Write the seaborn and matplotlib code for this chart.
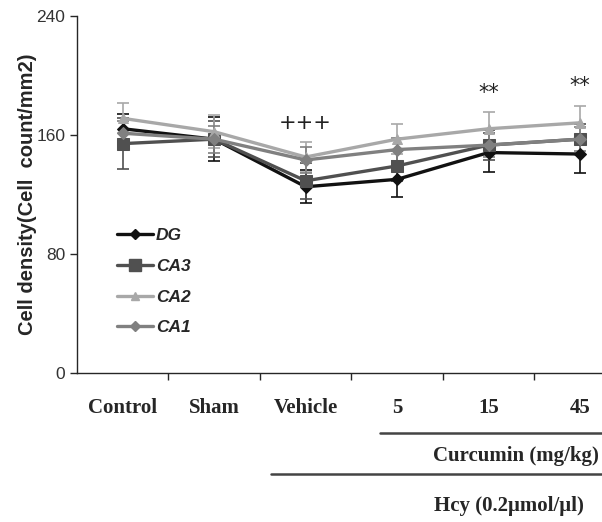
import pandas as pd
import numpy as np
import matplotlib.pyplot as plt
import seaborn as sns

# data
groups = ["Control", "Sham", "Vehicle", "5", "15", "45"]
dg = [164, 157, 125, 130, 148, 147]
ca3 = [154, 157, 129, 139, 153, 157]
ca2 = [171, 162, 145, 157, 164, 168]
ca1 = [161, 157, 143, 150, 153, 157]
dg_err = [10, 15, 11, 12, 13, 13]
ca3_err = [17, 12, 12, 10, 10, 10]
ca2_err = [10, 11, 10, 10, 11, 11]
ca1_err = [8, 9, 9, 8, 8, 8]
marks = ["", "", "+++", "", "**", "**"]
mark_y = [0, 0, 168, 0, 188, 193]

series = ["DG", "CA3", "CA2", "CA1"]
values = {"DG": dg, "CA3": ca3, "CA2": ca2, "CA1": ca1}
errors = {"DG": dg_err, "CA3": ca3_err, "CA2": ca2_err, "CA1": ca1_err}
colours = {"DG": "#111111", "CA3": "#505050", "CA2": "#a8a8a8", "CA1": "#808080"}
markers = {"DG": "D", "CA3": "s", "CA2": "^", "CA1": "D"}
msizes = {"DG": 6, "CA3": 9, "CA2": 7, "CA1": 6}

rows = []
for s in series:
    for i, g in enumerate(groups):
        rows.append({"x": i, "group": g, "series": s, "value": values[s][i]})
df = pd.DataFrame(rows)

sns.set_style("ticks")
plt.rcParams["font.family"] = ["Liberation Sans", "DejaVu Sans"]

W, H = 602, 522
fig = plt.figure(figsize=(W / 100, H / 100), dpi=100)
ax = fig.add_axes([77 / W, 1 - 372.7 / H, (W - 77) / W, 357 / H])

for s in series:
    sub = df[df["series"] == s]
    ax.errorbar(sub["x"], sub["value"], yerr=errors[s], fmt="none",
                ecolor=colours[s], elinewidth=1.2, capsize=4, capthick=1.2, zorder=1)

sns.lineplot(data=df, x="x", y="value", hue="series", style="series",
             palette=colours, markers=markers, dashes=False, ax=ax,
             linewidth=2.4, legend=False, zorder=3)
for line, s in zip(ax.lines[-len(series):], series):
    line.set_markersize(msizes[s])
    line.set_markeredgecolor(colours[s])

# legend built by hand to match the style
handles = [plt.Line2D([], [], color=colours[s], marker=markers[s], lw=2.4,
                      markersize=msizes[s] - 1) for s in series]
leg = ax.legend(handles, series, loc="upper left",
                bbox_to_anchor=(117 / W, 1 - 228 / H), bbox_transform=fig.transFigure,
                frameon=False, handlelength=2.1, handletextpad=0.15,
                labelspacing=0.9, borderpad=0, borderaxespad=0,
                prop={"weight": "bold", "style": "italic", "size": 12.5})

for i, t in enumerate(marks):
    if t:
        ax.text(i, mark_y[i], t, ha="center", va="center", fontsize=15,
                family="DejaVu Sans", color="#222222")

ax.set_xlim(-0.5, 5.24)
ax.set_ylim(0, 240)
ax.set_yticks([0, 80, 160, 240])
ax.set_xticks([0.5, 1.5, 2.5, 3.5, 4.5])
ax.set_xticklabels([])
ax.tick_params(axis="both", direction="out", length=5, width=1, labelsize=12.5,
               labelcolor="#333333")
ax.set_xlabel("")
ax.set_ylabel("Cell density(Cell  count/mm2)", fontweight="bold", fontsize=14.5)
ax.yaxis.set_label_coords((37 - 77) / (W - 77), 0.5)
for sp in ["top", "right"]:
    ax.spines[sp].set_visible(False)
for sp in ["left", "bottom"]:
    ax.spines[sp].set_linewidth(1)
ax.grid(False)

# group labels below the axis (y from pixel rows)
serif = ["Liberation Serif", "DejaVu Serif"]
label_y = (372.7 - 408) / 357
for i, g in enumerate(groups):
    ax.text(i, label_y, g, transform=ax.get_xaxis_transform(), ha="center", va="center",
            fontsize=15, fontweight="bold", family=serif)

# bracket lines and treatment labels
fig.add_artist(plt.Line2D([380 / W, 1.0], [1 - 433 / H] * 2, color="#444444", lw=1.8))
fig.add_artist(plt.Line2D([271 / W, 1.0], [1 - 474 / H] * 2, color="#444444", lw=1.8))
fig.text(599 / W, 1 - 456 / H, "Curcumin (mg/kg)", ha="right", va="center",
         fontsize=15, fontweight="bold", family=serif)
fig.text(584 / W, 1 - 506 / H, "Hcy (0.2\u03bcmol/\u03bcl)", ha="right", va="center",
         fontsize=15, fontweight="bold", family=serif)

plt.savefig("out.png", dpi=100)
plt.close()
